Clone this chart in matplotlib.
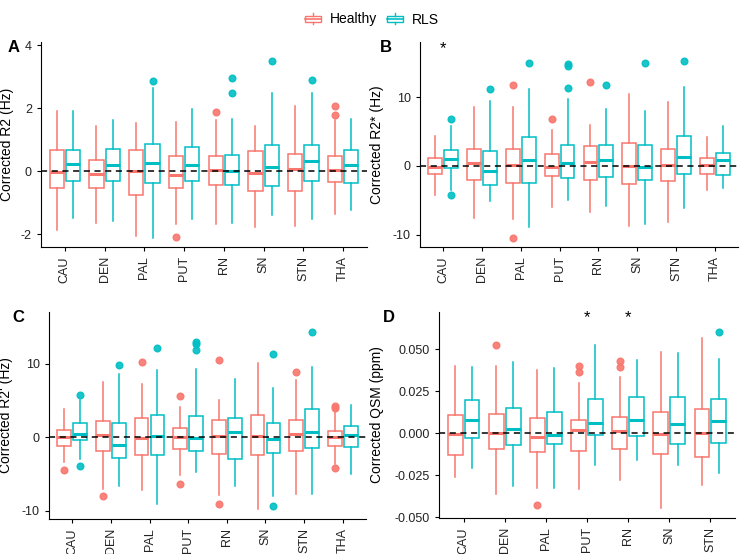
import numpy as np
import matplotlib.pyplot as plt
from matplotlib.legend_handler import HandlerBase
from matplotlib.patches import Rectangle
from matplotlib.lines import Line2D
from matplotlib.transforms import blended_transform_factory

plt.rcParams['font.family'] = ['Liberation Sans', 'DejaVu Sans']
plt.rcParams['axes.unicode_minus'] = False

regions = ["CAU", "DEN", "PAL", "PUT", "RN", "SN", "STN", "THA"]
regions_qsm = ["CAU", "DEN", "PAL", "PUT", "RN", "SN", "STN"]

# each row: (whisker low, q1, median, q3, whisker high)
r2_healthy = [(-1.87, -0.52, -0.02, 0.69, 1.90), (-1.64, -0.52, -0.10, 0.37, 1.44),
              (-2.06, -0.74, 0.00, 0.69, 1.54), (-1.68, -0.54, -0.11, 0.49, 1.56),
              (-1.66, -0.42, 0.03, 0.49, 1.62), (-1.77, -0.62, -0.05, 0.65, 1.43),
              (-1.74, -0.61, 0.07, 0.54, 2.07), (-1.34, -0.34, 0.03, 0.48, 1.64)]
r2_rls = [(-1.47, -0.31, 0.22, 0.66, 1.90), (-1.59, -0.31, 0.19, 0.71, 1.64),
          (-2.12, -0.36, 0.25, 0.87, 2.63), (-1.51, -0.30, 0.20, 0.78, 1.96),
          (-1.63, -0.44, 0.00, 0.53, 1.67), (-1.38, -0.45, 0.15, 0.85, 2.47),
          (-1.50, -0.30, 0.33, 0.85, 2.47), (-1.22, -0.36, 0.20, 0.69, 1.66)]
r2_healthy_out = [[], [], [], [-2.07], [1.87], [], [], [2.08, 1.80]]
r2_rls_out = [[], [], [2.87], [], [2.96, 2.48], [3.50], [2.89], []]

r2s_healthy = [(-4.3, -1.17, -0.20, 1.12, 4.27), (-7.57, -2.04, 0.44, 2.48, 8.50),
               (-7.67, -2.43, 0.15, 2.38, 8.54), (-6.0, -1.55, -0.15, 1.70, 5.15),
               (-6.75, -2.09, 0.49, 2.87, 5.92), (-8.69, -2.67, 0.00, 3.25, 10.39),
               (-8.10, -2.23, 0.19, 2.48, 9.32), (-3.45, -1.21, 0.15, 1.12, 4.17)]
r2s_rls = [(-3.5, -0.30, 0.92, 2.28, 5.73), (-5.15, -2.72, -0.68, 2.18, 9.42),
           (-8.83, -2.48, 0.78, 4.17, 11.2), (-4.95, -1.70, 0.44, 3.06, 9.76),
           (-5.83, -1.65, 0.78, 3.06, 8.25), (-8.45, -1.99, -0.24, 2.96, 8.0),
           (-6.1, -1.17, 1.26, 4.27, 11.4), (-3.2, -1.31, 0.83, 1.80, 5.73)]
r2s_healthy_out = [[], [], [11.7, -10.5], [6.84], [12.18], [], [], []]
r2s_rls_out = [[6.84, -4.17], [11.17], [15.0], [11.36, 14.85, 14.5], [11.75], [15.0], [15.3], []]

r2p_healthy = [(-3.35, -1.13, 0.00, 1.04, 3.90), (-6.97, -1.86, 0.36, 2.22, 7.50),
               (-7.20, -2.35, -0.09, 2.67, 7.20), (-5.16, -1.54, 0.05, 1.22, 4.12),
               (-7.90, -2.22, 0.23, 2.40, 5.00), (-9.80, -2.40, 0.14, 3.00, 10.1),
               (-7.65, -1.81, 0.41, 2.30, 7.74), (-3.57, -1.18, 0.05, 0.81, 3.48)]
r2p_rls = [(-2.9, -0.32, 0.41, 1.95, 5.10), (-6.65, -2.80, -1.00, 1.95, 8.60),
           (-9.05, -2.35, 0.18, 3.08, 9.10), (-4.75, -1.90, -0.05, 2.94, 9.23),
           (-6.60, -3.00, 0.68, 2.62, 7.96), (-7.96, -2.17, -0.23, 1.90, 6.65),
           (-7.65, -1.40, 0.68, 3.85, 9.50), (-5.0, -1.31, 0.36, 1.49, 4.43)]
r2p_healthy_out = [[-4.4], [-8.0], [10.18], [5.6, -6.38], [10.45, -9.05], [], [8.82], [4.3, 3.94, -4.2]]
r2p_rls_out = [[5.75, -3.85], [9.77], [12.17], [11.8, 12.94, 12.7], [], [11.36, -9.3], [14.25], []]

qsm_healthy = [(-0.0259, -0.0130, -0.0004, 0.0110, 0.0399), (-0.0362, -0.0093, 0.0000, 0.0113, 0.0401),
               (-0.0328, -0.0113, -0.0020, 0.0093, 0.0375), (-0.0334, -0.0103, 0.0018, 0.0081, 0.0300),
               (-0.0277, -0.0093, 0.0012, 0.0095, 0.0334), (-0.0447, -0.0125, -0.0004, 0.0123, 0.0480),
               (-0.0310, -0.0142, 0.0002, 0.0146, 0.0565)]
qsm_rls = [(-0.0204, -0.0030, 0.0077, 0.0200, 0.0393), (-0.0312, -0.0069, 0.0022, 0.0152, 0.0423),
           (-0.0326, -0.0067, -0.0008, 0.0126, 0.0389), (-0.0190, -0.0012, 0.0063, 0.0204, 0.0526),
           (-0.0158, -0.0014, 0.0081, 0.0215, 0.0433), (-0.0188, -0.0065, 0.0055, 0.0217, 0.0478),
           (-0.0239, -0.0061, 0.0073, 0.0206, 0.0443)]
qsm_healthy_out = [[], [0.0524], [-0.0425], [0.0401, 0.0362], [0.0431, 0.0393], [], []]
qsm_rls_out = [[], [], [], [], [], [], [0.0601]]

col_h = "#F8766D"
col_r = "#00BFC4"

W, H = 742, 554
fig = plt.figure(figsize=(W / 100, H / 100), dpi=100)


def draw_panel(ax, cats, healthy, rls, out_h, out_r, ylab, ylab_x):
    x = np.arange(1, len(cats) + 1)
    for stats, outs, off, col in [(healthy, out_h, -0.205, col_h), (rls, out_r, 0.205, col_r)]:
        bx = [dict(whislo=s[0], q1=s[1], med=s[2], q3=s[3], whishi=s[4], fliers=o)
              for s, o in zip(stats, outs)]
        ax.bxp(bx, positions=x + off, widths=0.355, showcaps=False, patch_artist=True,
               manage_ticks=False,
               boxprops=dict(facecolor="white", edgecolor=col, lw=1.1),
               whiskerprops=dict(color=col, lw=1.1),
               medianprops=dict(color=col, lw=2.2),
               flierprops=dict(marker="o", markerfacecolor=col, markeredgecolor=col,
                               markersize=4.8, alpha=0.9))
    ax.axhline(0, color="black", ls=(0, (4, 3)), lw=1.1, zorder=5)
    ax.set_xticks(x)
    ax.set_xticklabels(cats, rotation=90)
    ax.set_xlim(0.4, len(cats) + 0.6)
    for s in ["top", "right"]:
        ax.spines[s].set_visible(False)
    ax.tick_params(direction="out", length=3, labelsize=9, labelcolor="#222222")
    ax.set_ylabel(ylab, fontsize=10)
    tr = blended_transform_factory(fig.transFigure, ax.transAxes)
    ax.yaxis.set_label_coords(ylab_x / W, 0.5, transform=tr)


def px_axes(l, t, r, b):
    return fig.add_axes([l / W, 1 - b / H, (r - l) / W, (b - t) / H])


axA = px_axes(41, 42, 367, 247)
axB = px_axes(420, 42, 738, 247)
axC = px_axes(49, 312, 366, 519)
axD = px_axes(439, 312, 735, 518)

draw_panel(axA, regions, r2_healthy, r2_rls, r2_healthy_out, r2_rls_out, "Corrected R2 (Hz)", 14)
axA.set_ylim(-2.4, 4.1)
axA.set_yticks([-2, 0, 2, 4])

draw_panel(axB, regions, r2s_healthy, r2s_rls, r2s_healthy_out, r2s_rls_out, "Corrected R2* (Hz)", 384)
axB.set_ylim(-11.8, 18)
axB.set_yticks([-10, 0, 10])
axB.text(1, 17.0, "*", ha="center", va="center", fontsize=12)

draw_panel(axC, regions, r2p_healthy, r2p_rls, r2p_healthy_out, r2p_rls_out, "Corrected R2' (Hz)", 13)
axC.set_ylim(-11.1, 17)
axC.set_yticks([-10, 0, 10])

draw_panel(axD, regions_qsm, qsm_healthy, qsm_rls, qsm_healthy_out, qsm_rls_out, "Corrected QSM (ppm)", 384)
axD.set_ylim(-0.0504, 0.072)
axD.set_yticks([-0.05, -0.025, 0, 0.025, 0.05])
axD.set_yticklabels(["-0.050", "-0.025", "0.000", "0.025", "0.050"])
for i in [4, 5]:
    axD.text(i, 0.0685, "*", ha="center", va="center", fontsize=12)

for lab, xp, yp in [("A", 8, 47), ("B", 380, 47), ("C", 12, 317), ("D", 383, 317)]:
    fig.text(xp / W, 1 - yp / H, lab, fontsize=12, fontweight="bold", va="center")


class BoxHandler(HandlerBase):
    def create_artists(self, legend, orig_handle, xdescent, ydescent, width, height, fontsize, trans):
        col = orig_handle.get_color()
        x0, y0 = -xdescent, -ydescent
        bw, bh = width * 0.8, height * 0.62
        bx, by = x0 + (width - bw) / 2, y0 + (height - bh) / 2
        cx = x0 + width / 2
        rect = Rectangle((bx, by), bw, bh, facecolor="white", edgecolor=col, lw=1, transform=trans)
        med = Line2D([bx, bx + bw], [by + bh / 2] * 2, color=col, lw=1.2, transform=trans)
        w1 = Line2D([cx, cx], [y0 - height * 0.1, by], color=col, lw=1, transform=trans)
        w2 = Line2D([cx, cx], [by + bh, y0 + height * 1.1], color=col, lw=1, transform=trans)
        return [rect, med, w1, w2]


hands = [Line2D([], [], color=col_h), Line2D([], [], color=col_r)]
fig.legend(hands, ["Healthy", "RLS"], handler_map={Line2D: BoxHandler()},
           loc="upper center", bbox_to_anchor=(0.5, 1.0), ncol=2, frameon=False,
           fontsize=10, handlelength=1.4, handletextpad=0.5, columnspacing=0.6)

fig.savefig("out.png", dpi=100)
